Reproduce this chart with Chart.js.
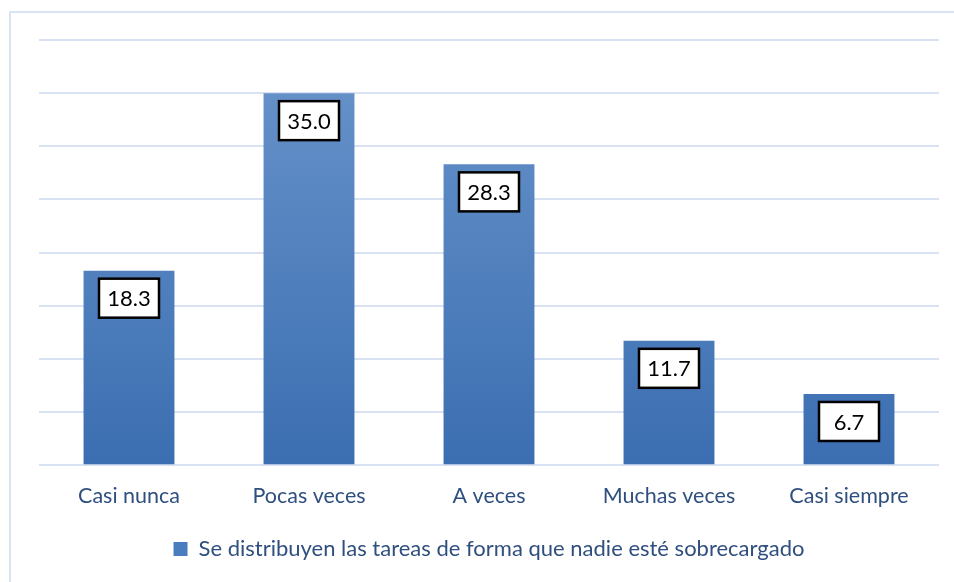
<!DOCTYPE html>
<html>
<head>
<meta charset="utf-8">
<script src="https://cdn.jsdelivr.net/npm/chart.js@4"></script>
<style>
  body { margin: 0; background: #fff; }
  #wrap { width: 954px; height: 582px; position: relative; }
</style>
</head>
<body>
<div id="wrap"><canvas id="chart" width="954" height="582"></canvas></div>
<script>
// values
const categories = ['Casi nunca', 'Pocas veces', 'A veces', 'Muchas veces', 'Casi siempre'];
const seriesName = 'Se distribuyen las tareas de forma que nadie esté sobrecargado';
const seriesValues = [18.3, 35.0, 28.3, 11.7, 6.7];
const yTicks = [0, 5, 10, 15, 20, 25, 30, 35, 40];

const fontFamily = "Lato, 'Open Sans', sans-serif";
const textColor = '#2f4f7f';

// bar fill: lighter at top, darker at bottom
function barGradient(context) {
    const chart = context.chart;
    const area = chart.chartArea;
    if (!area) return '#4a7dbf';
    const g = chart.ctx.createLinearGradient(0, area.top, 0, area.bottom);
    g.addColorStop(0, '#6a95cb');
    g.addColorStop(1, '#3b6eb1');
    return g;
}

// outer frame, like the office chart border
const framePlugin = {
    id: 'frame',
    beforeDraw(chart) {
        const ctx = chart.ctx;
        ctx.save();
        ctx.strokeStyle = '#dae3f3';
        ctx.lineWidth = 2;
        ctx.strokeRect(10, 12, 1000, 700);
        ctx.restore();
    }
};

// boxed value labels inside the top of each bar
const valueBoxPlugin = {
    id: 'valueBox',
    afterDatasetsDraw(chart) {
        const ctx = chart.ctx;
        const meta = chart.getDatasetMeta(0);
        ctx.save();
        ctx.font = '22px ' + fontFamily;
        ctx.textAlign = 'center';
        ctx.textBaseline = 'middle';
        meta.data.forEach(function(bar, i) {
            const text = seriesValues[i].toFixed(1);
            const w = 60, h = 39;
            const x = bar.x - w / 2;
            const y = bar.y + 8;
            ctx.fillStyle = '#fff';
            ctx.fillRect(x, y, w, h);
            ctx.strokeStyle = '#000';
            ctx.lineWidth = 2.5;
            ctx.strokeRect(x, y, w, h);
            ctx.fillStyle = '#000';
            ctx.fillText(text, bar.x, y + h / 2 + 1);
        });
        ctx.restore();
    }
};

const ctx = document.getElementById('chart').getContext('2d');
new Chart(ctx, {
    type: 'bar',
    data: {
        labels: categories,
        datasets: [{
            label: seriesName,
            data: seriesValues,
            backgroundColor: barGradient,
            borderWidth: 0,
            categoryPercentage: 1.0,
            barPercentage: 0.505
        }]
    },
    options: {
        responsive: false,
        animation: false,
        layout: {
            padding: { left: 39, right: 15, top: 40, bottom: 12 }
        },
        scales: {
            x: {
                grid: { display: false, drawTicks: false },
                border: { display: false },
                ticks: {
                    color: textColor,
                    font: { family: fontFamily, size: 21.5 },
                    padding: 18
                }
            },
            y: {
                min: yTicks[0],
                max: yTicks[yTicks.length - 1],
                afterBuildTicks: function(axis) {
                    axis.ticks = yTicks.map(v => ({ value: v }));
                },
                ticks: { display: false },
                grid: { color: '#d9e2f3', lineWidth: 2, drawTicks: false },
                border: { display: false }
            }
        },
        plugins: {
            legend: {
                position: 'bottom',
                labels: {
                    color: textColor,
                    font: { family: fontFamily, size: 22 },
                    boxWidth: 14,
                    boxHeight: 14,
                    padding: 11,
                    generateLabels: function(chart) {
                        return [{
                            text: seriesName,
                            fillStyle: '#4a7dbf',
                            strokeStyle: '#4a7dbf',
                            lineWidth: 0,
                            fontColor: textColor,
                            datasetIndex: 0
                        }];
                    }
                }
            },
            tooltip: { enabled: false }
        }
    },
    plugins: [framePlugin, valueBoxPlugin]
});
</script>
</body>
</html>
